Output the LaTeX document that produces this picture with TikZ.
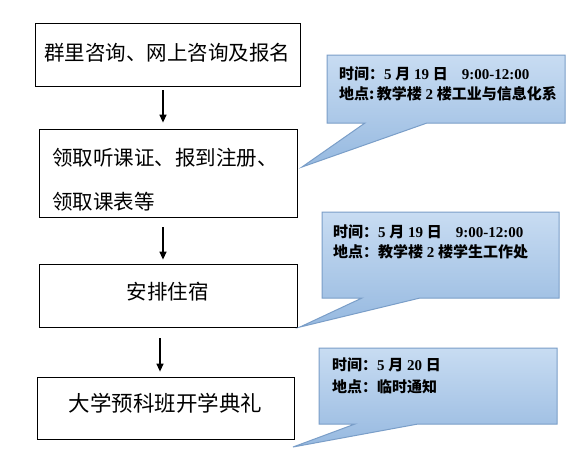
\documentclass[tikz,border=0pt]{standalone}
\usepackage{fontspec}
\setmainfont{Liberation Serif}
\newfontfamily\cjk{Noto Sans CJK SC}
\usetikzlibrary{arrows.meta}
\definecolor{ctop}{RGB}{200,220,242}
\definecolor{cbot}{RGB}{150,185,224}
\definecolor{cbord}{RGB}{122,158,200}
\begin{document}
\begin{tikzpicture}[x=1pt,y=-1pt,
  boxnode/.style={draw=black,line width=0.8pt,inner sep=0pt,fill=white},
  btxt/.style={font=\cjk\fontsize{20.5}{24}\selectfont,inner sep=0pt},
  ctxt/.style={font=\bfseries\fontsize{15}{18}\selectfont,inner sep=0pt,anchor=base west},
  arr/.style={line width=1.3pt,-{Triangle[length=8pt,width=7pt]}},
  callout/.style={draw=cbord,line width=1pt,top color=ctop,bottom color=cbot}]
\useasboundingbox (0,0) rectangle (585,475);
\fill[white] (0,0) rectangle (585,475);

% process boxes
\node[boxnode,minimum width=265pt,minimum height=63pt] (b1) at (167.5,54.5) {};
\node[boxnode,minimum width=258pt,minimum height=88pt] (b2) at (168,173) {};
\node[boxnode,minimum width=258pt,minimum height=63pt] (b3) at (168,295.5) {};
\node[boxnode,minimum width=257pt,minimum height=62pt] (b4) at (165.5,408) {};

\node[btxt] (t1) at (167,53) {群里咨询、网上咨询及报名};
\node[btxt,anchor=west] (t2a) at (52,158) {领取听课证、报到注册、};
\node[btxt,anchor=west] (t2b) at (52,202) {领取课表等};
\node[btxt] (t3) at (167.5,292) {安排住宿};
\node[btxt,font=\cjk\fontsize{21.5}{24}\selectfont] (t4) at (165.5,403) {大学预科班开学典礼};

% arrows
\draw[arr] ([xshift=-4.5pt,yshift=-4pt]b1.south) -- ([xshift=-5pt,yshift=6pt]b2.north);
\draw[arr] ([xshift=-5pt,yshift=-10pt]b2.south) -- ([xshift=-5pt,yshift=4pt]b3.north);
\draw[arr] ([xshift=-8pt,yshift=-11pt]b3.south) -- ([xshift=-5.5pt,yshift=5pt]b4.north);

% callouts
\path[callout] (327,55) -- (565,55) -- (565,123) -- (427,123) -- (302,167) -- (365,123) -- (327,123) -- cycle;
\path[callout] (322,212) -- (559,212) -- (559,298) -- (420,298) -- (300,327) -- (362,298) -- (322,298) -- cycle;
\path[callout] (319,348) -- (557,348) -- (557,424) -- (418,424) -- (293,447) -- (355,424) -- (319,424) -- cycle;

\node[ctxt] (c1a) at (339,79.5) {{\cjk 时间：}5 {\cjk 月} 19 {\cjk 日}\hspace{14pt}9:00-12:00};
\node[ctxt] (c1b) at (339,99) {{\cjk 地点:}\,{\cjk 教学楼} 2 {\cjk 楼工业与信息化系}};
\node[ctxt] (c2a) at (333,237.5) {{\cjk 时间：}5 {\cjk 月} 19 {\cjk 日}\hspace{14pt}9:00-12:00};
\node[ctxt] (c2b) at (333,257.5) {{\cjk 地点：教学楼} 2 {\cjk 楼学生工作处}};
\node[ctxt] (c3a) at (332,370.5) {{\cjk 时间：}5 {\cjk 月} 20 {\cjk 日}};
\node[ctxt] (c3b) at (332,392.5) {{\cjk 地点：临时通知}};
\end{tikzpicture}
\end{document}
